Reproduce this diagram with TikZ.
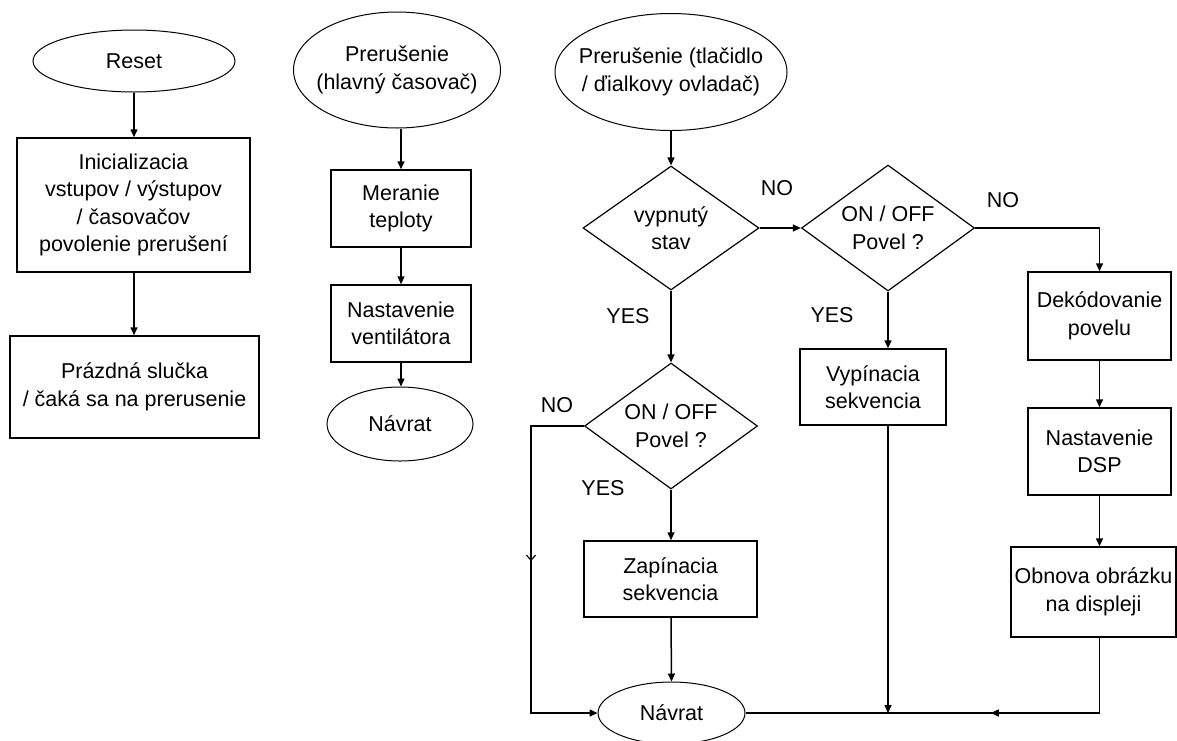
\documentclass[tikz,border=0pt]{standalone}
\usepackage{fontspec}
\setmainfont{Liberation Sans}
\usetikzlibrary{shapes.geometric,arrows.meta,decorations.markings}
\begin{document}
\begin{tikzpicture}[x=1pt,y=-1pt,
  txt/.style={font=\fontsize{21.5}{27.5}\selectfont, align=center, inner sep=0pt},
  box/.style={draw, line width=1.5pt, inner sep=0pt, txt},
  term/.style={draw, ellipse, line width=1pt, inner sep=0pt},
  dec/.style={draw, diamond, line width=1.2pt, inner sep=0pt},
  conn/.style={line width=1.5pt, -{Triangle[length=8pt,width=7pt]}},
  plain/.style={line width=1.5pt}
]
\useasboundingbox (0,0) rectangle (1177,740);

% column 1
\node[term, minimum width=202pt, minimum height=62pt, label={[txt]center:Reset}] (reset) at (134,61) {};
\node[box, minimum width=233pt, minimum height=134pt] (init) at (133.5,205) {Inicializacia\\vstupov / výstupov\\/ časovačov\\povolenie prerušení};
\node[box, minimum width=249pt, minimum height=102pt] (loop) at (134.5,387) {Prázdná slučka\\/ čaká sa na prerusenie};
\draw[conn] (reset.south) -- (reset.south |- init.north);
\draw[conn] (reset.south |- init.south) -- (reset.south |- loop.north);

% column 2
\node[term, minimum width=207pt, minimum height=116pt, label={[txt]center:Prerušenie\\(hlavný časovač)}] (int1) at (397,70) {};
\node[box, minimum width=140pt, minimum height=77pt] (meranie) at (401,208.5) {Meranie\\teploty};
\node[box, minimum width=140pt, minimum height=77pt] (nastv) at (401,323.5) {Nastavenie\\ventilátora};
\node[term, minimum width=146pt, minimum height=74pt, label={[txt]center:Návrat}] (navrat1) at (400,424) {};
\draw[conn] (meranie.north |- int1.south) -- (meranie.north);
\draw[conn] (meranie.south) -- (nastv.north);
\draw[conn] (nastv.south) -- (nastv.south |- navrat1.north);

% column 3
\node[term, minimum width=232pt, minimum height=117pt, label={[txt]center:Prerušenie (tlačidlo\\/ ďialkovy ovladač)}] (int2) at (671,72) {};
\node[dec, minimum width=176pt, minimum height=124pt, label={[txt]center:vypnutý\\stav}] (d1) at (671,228) {};
\node[dec, minimum width=173pt, minimum height=126pt, label={[txt]center:ON / OFF\\Povel ?}] (d2) at (888,228) {};
\node[dec, minimum width=173pt, minimum height=126pt, label={[txt]center:ON / OFF\\Povel ?}] (d3) at (671,426) {};
\node[box, minimum width=143pt, minimum height=88pt] (dekod) at (1099.5,316) {Dekódovanie\\povelu};
\node[box, minimum width=143pt, minimum height=87pt] (dsp) at (1099.5,451.5) {Nastavenie\\DSP};
\node[box, minimum width=165pt, minimum height=90pt] (obnova) at (1093.5,592) {Obnova obrázku\\na displeji};
\node[box, minimum width=146pt, minimum height=76pt] (vyp) at (873,387) {Vypínacia\\sekvencia};
\node[box, minimum width=173pt, minimum height=76pt] (zap) at (670.5,579) {Zapínacia\\sekvencia};
\node[term, minimum width=147pt, minimum height=62pt, label={[txt]center:Návrat}] (navrat2) at (671.5,713) {};

% labels
\node[txt] (no1) at (777,188) {NO};
\node[txt] (no2) at (1003,200) {NO};
\node[txt] (yes1) at (628,316) {YES};
\node[txt] (yes2) at (832,315) {YES};
\node[txt] (no3) at (557,405) {NO};
\node[txt] (yes3) at (603,488) {YES};

% connectors
\draw[conn] (int2.south) -- (d1.north);
\draw[conn] (d1.east) -- (d2.west);
\draw[conn] (d2.east) -| (dsp.north |- dekod.north);
\draw[conn] (dsp.north |- dekod.south) -- (dsp.north);
\coordinate (ob) at (dsp.south |- obnova.north);
\draw[conn] (dsp.south) -- (ob);
\draw[conn] (d1.south) -- (d3.north);
\draw[conn] (d3.south) -- (d3.south |- zap.north);
\draw[conn] (d3.south |- zap.south) -- (navrat2.north);
\draw[conn] (d2.south) -- (d2.south |- vyp.north);
\coordinate (vb) at (d2.south |- vyp.south);
\draw[conn] (vb) -- (vb |- navrat2.east);
\coordinate (lc) at (531,426);
\draw[plain, -{Triangle[length=8pt,width=7pt]},
  postaction={decorate, decoration={markings, mark=at position 188pt with {\arrow{Straight Barb[length=5pt,width=9pt,line width=1.2pt]}}}}]
  (d3.west) -- (lc) |- (navrat2.west);
\coordinate (obs) at (dsp.south |- obnova.south);
\draw[plain, postaction={decorate, decoration={markings, mark=at position 184pt with {\arrow{Triangle[length=8pt,width=7pt]}}}}]
  (obs) |- (navrat2.east);
\end{tikzpicture}
\end{document}
